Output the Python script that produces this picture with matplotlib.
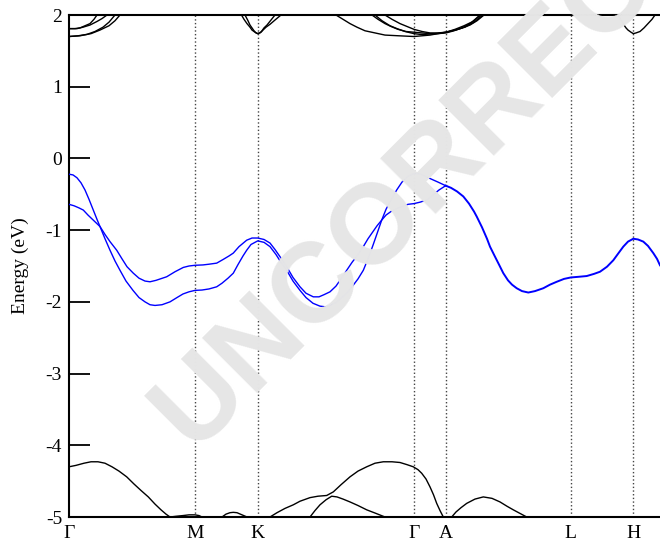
import matplotlib
matplotlib.use("Agg")
import matplotlib.pyplot as plt

plt.rcParams['font.family'] = ['Liberation Serif', 'DejaVu Serif']
plt.rcParams['axes.unicode_minus'] = False

# high symmetry points along the k-path (arb. units)
kpoint_pos = [0.0, 1.26, 1.887, 3.45, 3.767, 5.017, 5.643]
kpoint_labels = ['Γ', 'M', 'K', 'Γ', 'A', 'L', 'H']
k_end = 5.91

# blue valence bands: branch 1 (top at Γ)
blue1_k = [0.00, 0.04, 0.08, 0.12, 0.16, 0.20, 0.24, 0.28, 0.31, 0.36, 0.41, 0.46, 0.51, 0.57,
           0.64, 0.70, 0.76, 0.81, 0.86, 0.93, 1.01, 1.08, 1.14, 1.20, 1.26, 1.33, 1.40, 1.477,
           1.53, 1.59, 1.643, 1.69, 1.74, 1.777, 1.82, 1.887, 1.95, 2.01, 2.07, 2.12, 2.177,
           2.24, 2.31, 2.37, 2.44, 2.51, 2.57, 2.61, 2.67, 2.72, 2.777, 2.83, 2.89, 2.943,
           2.99, 3.04, 3.08, 3.127, 3.17, 3.22, 3.277, 3.33, 3.39, 3.45, 3.52, 3.61, 3.69, 3.767]
blue1_e = [-0.22, -0.23, -0.27, -0.34, -0.44, -0.57, -0.71, -0.85, -0.95, -1.12, -1.28, -1.43,
           -1.56, -1.71, -1.84, -1.94, -2.00, -2.04, -2.05, -2.04, -2.00, -1.94, -1.89, -1.86,
           -1.84, -1.835, -1.82, -1.79, -1.74, -1.67, -1.60, -1.48, -1.36, -1.28, -1.20, -1.15,
           -1.17, -1.23, -1.34, -1.45, -1.56, -1.71, -1.84, -1.94, -2.02, -2.06, -2.07, -2.05,
           -2.01, -1.95, -1.88, -1.79, -1.68, -1.56, -1.40, -1.21, -1.05, -0.86, -0.71, -0.58,
           -0.44, -0.33, -0.25, -0.21, -0.22, -0.28, -0.33, -0.38]

# blue valence bands: branch 2 (lower at Γ)
blue2_k = [0.00, 0.05, 0.10, 0.143, 0.19, 0.25, 0.31, 0.36, 0.41, 0.477, 0.53, 0.58, 0.643,
           0.70, 0.76, 0.81, 0.87, 0.977, 1.06, 1.143, 1.20, 1.26, 1.34, 1.40, 1.477, 1.54,
           1.60, 1.643, 1.70, 1.777, 1.83, 1.887, 1.95, 2.01, 2.06, 2.12, 2.177, 2.24, 2.31,
           2.37, 2.443, 2.50, 2.55, 2.61, 2.67, 2.72, 2.777, 2.83, 2.89, 2.943, 2.99, 3.04,
           3.08, 3.127, 3.17, 3.22, 3.277, 3.33, 3.39, 3.45, 3.51, 3.577, 3.64, 3.70, 3.767]
blue2_e = [-0.64, -0.66, -0.69, -0.72, -0.79, -0.87, -0.95, -1.06, -1.16, -1.28, -1.40, -1.51,
           -1.60, -1.67, -1.71, -1.72, -1.70, -1.65, -1.58, -1.52, -1.50, -1.49, -1.485, -1.475,
           -1.46, -1.41, -1.36, -1.32, -1.23, -1.14, -1.11, -1.11, -1.13, -1.18, -1.27, -1.39,
           -1.51, -1.66, -1.79, -1.88, -1.93, -1.93, -1.90, -1.86, -1.78, -1.68, -1.56, -1.45,
           -1.34, -1.23, -1.12, -1.02, -0.94, -0.86, -0.79, -0.74, -0.70, -0.67, -0.64, -0.63,
           -0.61, -0.58, -0.51, -0.44, -0.38]

# degenerate part after A
blue_tail_k = [3.767, 3.82, 3.88, 3.943, 4.00, 4.05, 4.077, 4.13, 4.18, 4.21, 4.26, 4.30, 4.343,
               4.39, 4.43, 4.477, 4.53, 4.593, 4.66, 4.743, 4.81, 4.877, 4.95, 5.017, 5.10,
               5.177, 5.25, 5.31, 5.38, 5.443, 5.49, 5.543, 5.59, 5.643, 5.69, 5.743, 5.79,
               5.843, 5.88, 5.91]
blue_tail_e = [-0.38, -0.41, -0.46, -0.53, -0.63, -0.74, -0.81, -0.96, -1.12, -1.23, -1.37, -1.48,
               -1.60, -1.70, -1.76, -1.81, -1.85, -1.87, -1.85, -1.81, -1.76, -1.72, -1.68, -1.66,
               -1.65, -1.64, -1.61, -1.58, -1.51, -1.42, -1.33, -1.23, -1.16, -1.12, -1.13, -1.16,
               -1.22, -1.32, -1.40, -1.49]

# black conduction bands near the top (k, E)
top_bands = [
    ([0.0, 0.06, 0.11, 0.16, 0.21, 0.25, 0.28], [1.81, 1.81, 1.82, 1.85, 1.88, 1.94, 2.0]),
    ([0.0, 0.08, 0.14, 0.21, 0.28, 0.33, 0.38], [1.81, 1.81, 1.83, 1.86, 1.91, 1.95, 2.0]),
    ([0.0, 0.09, 0.18, 0.26, 0.34, 0.40, 0.46], [1.70, 1.71, 1.73, 1.77, 1.83, 1.90, 2.0]),
    ([0.0, 0.11, 0.22, 0.31, 0.40, 0.46, 0.51], [1.70, 1.71, 1.74, 1.79, 1.85, 1.92, 2.0]),
    ([1.725, 1.75, 1.78, 1.81, 1.83, 1.86, 1.887, 1.92, 1.94, 1.97, 2.01, 2.06, 2.12],
     [2.0, 1.94, 1.88, 1.83, 1.79, 1.76, 1.74, 1.76, 1.79, 1.83, 1.87, 1.93, 2.0]),
    ([1.76, 1.79, 1.81, 1.83, 1.85, 1.87, 1.887, 1.91, 1.93, 1.95, 1.98, 2.02, 2.06],
     [2.0, 1.92, 1.86, 1.82, 1.78, 1.75, 1.74, 1.75, 1.78, 1.82, 1.86, 1.93, 2.0]),
    ([2.67, 2.74, 2.81, 2.88, 2.96, 3.06, 3.16, 3.30, 3.45, 3.53, 3.61, 3.69, 3.77, 3.86, 3.96,
      4.05, 4.14],
     [2.0, 1.94, 1.88, 1.83, 1.78, 1.75, 1.72, 1.71, 1.70, 1.71, 1.72, 1.74, 1.76, 1.79, 1.83,
      1.90, 2.0]),
    ([3.03, 3.09, 3.16, 3.22, 3.29, 3.37, 3.45, 3.53, 3.61, 3.69, 3.77, 3.85, 3.93, 4.02, 4.11],
     [2.0, 1.94, 1.88, 1.84, 1.80, 1.77, 1.76, 1.75, 1.74, 1.74, 1.75, 1.78, 1.82, 1.89, 2.0]),
    ([3.06, 3.13, 3.21, 3.28, 3.36, 3.45, 3.51, 3.56, 3.66, 3.77, 3.86, 3.95, 4.04, 4.12],
     [2.0, 1.92, 1.85, 1.81, 1.77, 1.74, 1.73, 1.73, 1.74, 1.76, 1.80, 1.85, 1.91, 2.0]),
    ([3.16, 3.23, 3.31, 3.38, 3.45, 3.53, 3.61, 3.69, 3.77, 3.89, 4.01, 4.08, 4.15],
     [2.0, 1.94, 1.88, 1.84, 1.80, 1.77, 1.75, 1.75, 1.76, 1.80, 1.86, 1.92, 2.0]),
    ([5.49, 5.52, 5.55, 5.57, 5.59, 5.62, 5.643, 5.67, 5.71, 5.75, 5.79, 5.83, 5.86],
     [2.0, 1.93, 1.86, 1.82, 1.79, 1.76, 1.74, 1.75, 1.77, 1.82, 1.88, 1.94, 2.0]),
]

# black bands near the bottom (k, E)
bottom_bands = [
    ([0.00, 0.07, 0.15, 0.22, 0.29, 0.36, 0.43, 0.50, 0.577, 0.65, 0.72, 0.793, 0.86, 0.92,
      0.97, 1.01],
     [-4.30, -4.28, -4.25, -4.23, -4.23, -4.25, -4.30, -4.36, -4.44, -4.54, -4.63, -4.72,
      -4.82, -4.90, -4.96, -5.0]),
    ([1.01, 1.07, 1.14, 1.20, 1.26, 1.30, 1.33], [-5.0, -4.99, -4.98, -4.97, -4.97, -4.98, -5.0]),
    ([1.53, 1.57, 1.61, 1.643, 1.68, 1.73, 1.78], [-5.0, -4.96, -4.94, -4.935, -4.94, -4.97, -5.0]),
    ([2.01, 2.08, 2.16, 2.243, 2.31, 2.41, 2.49, 2.577, 2.643, 2.72, 2.81, 2.89, 2.977, 3.06,
      3.143, 3.23, 3.31, 3.38, 3.443, 3.49, 3.527, 3.57, 3.61, 3.645, 3.677, 3.71, 3.743],
     [-5.0, -4.94, -4.88, -4.83, -4.78, -4.73, -4.71, -4.70, -4.65, -4.55, -4.44, -4.36,
      -4.30, -4.25, -4.23, -4.23, -4.24, -4.27, -4.30, -4.34, -4.39, -4.47, -4.58, -4.69,
      -4.81, -4.91, -5.0]),
    ([2.41, 2.46, 2.51, 2.57, 2.627, 2.68, 2.74, 2.81, 2.89, 2.977, 3.07, 3.16],
     [-5.0, -4.91, -4.83, -4.76, -4.71, -4.72, -4.75, -4.79, -4.84, -4.90, -4.95, -5.0]),
    ([3.827, 3.87, 3.92, 3.977, 4.06, 4.143, 4.23, 4.31, 4.38, 4.443, 4.51, 4.577],
     [-5.0, -4.93, -4.87, -4.81, -4.75, -4.72, -4.74, -4.79, -4.85, -4.90, -4.95, -5.0]),
]

fig = plt.figure(figsize=(6.6, 5.47), dpi=100)
ax = fig.add_axes([69 / 660, 1 - 517 / 547, 1 - 69 / 660, (517 - 15) / 547])

# watermark
fig.text(485 / 660, 1 - 118 / 547, 'UNCORRECTED', family='Liberation Sans', weight='bold',
         fontsize=82, color='#e6e6e6', rotation=45, ha='center', va='center', zorder=0)
ax.set_facecolor('none')

for x in kpoint_pos[1:]:
    ax.axvline(x, color='#444444', linestyle=':', linewidth=1.0, zorder=1)

for kk, ee in top_bands + bottom_bands:
    ax.plot(kk, ee, color='black', linewidth=1.0, zorder=2)

ax.plot(blue1_k, blue1_e, color='blue', linewidth=1.0, zorder=3)
ax.plot(blue2_k, blue2_e, color='blue', linewidth=1.0, zorder=3)
ax.plot(blue_tail_k, blue_tail_e, color='blue', linewidth=1.4, zorder=3)

ax.set_xlim(0, k_end)
ax.set_ylim(-5, 2)
ax.set_yticks([-5, -4, -3, -2, -1, 0, 1, 2])
ax.set_xticks(kpoint_pos)
ax.set_xticklabels(kpoint_labels)
ax.tick_params(axis='y', direction='in', length=15, width=1.3, labelsize=14, pad=5)
ax.tick_params(axis='x', length=0, labelsize=14, pad=6)
ax.set_ylabel('Energy (eV)', fontsize=14, labelpad=12)
ax.spines['right'].set_visible(False)
for s in ['left', 'top', 'bottom']:
    ax.spines[s].set_linewidth(1.5)

fig.savefig('out.png', dpi=100)
